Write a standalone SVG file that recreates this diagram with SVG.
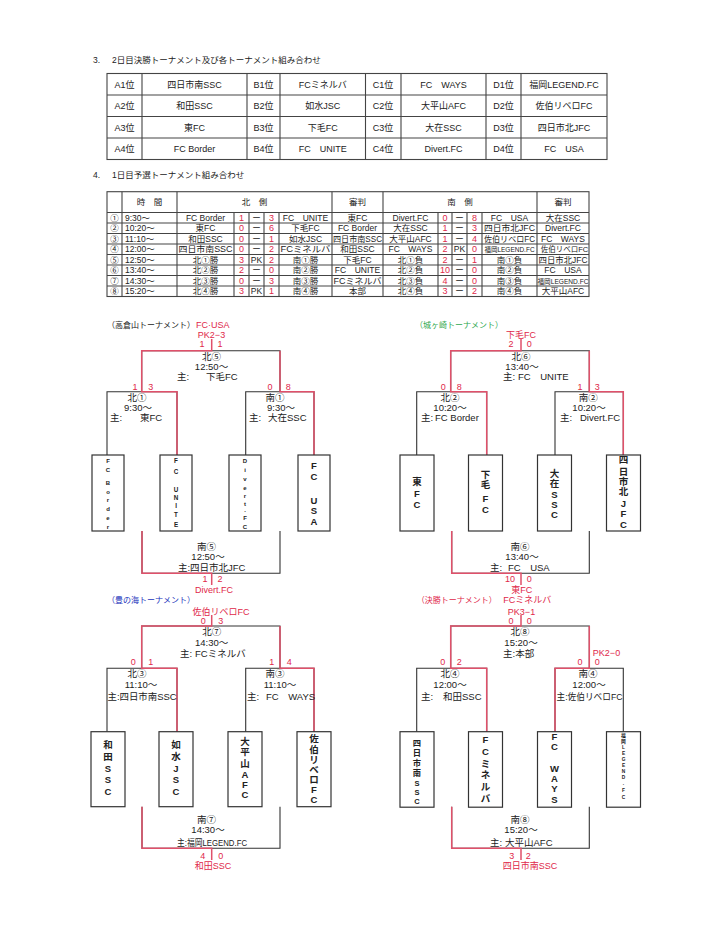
<svg xmlns="http://www.w3.org/2000/svg" width="720" height="937" viewBox="0 0 720 937">
<style>
text{font-family:"Liberation Sans","Noto Sans CJK JP",sans-serif;fill:#222}
.h{font-size:8.5px}
.t1{font-size:9px;text-anchor:middle}
.t2{font-size:8.5px;text-anchor:middle}
.t2l{font-size:8.5px}
.b{font-size:9.5px}
.bc{font-size:9.5px;text-anchor:middle}
.ttl{font-size:8px}
.r{fill:#e0284a}
.s{font-size:9px;fill:#e0284a;text-anchor:middle}
.v{font-weight:bold;text-anchor:middle;font-size:9.5px}
.vm{font-weight:bold;text-anchor:middle;font-size:8.3px}
.vu{font-weight:bold;text-anchor:middle;font-size:6.3px}
.vs{font-weight:bold;text-anchor:middle;font-size:6px}
.vt{font-weight:bold;text-anchor:middle;font-size:4.8px}
.g{stroke:#444;stroke-width:1.1;fill:none}
.ln{stroke:#333;stroke-width:1.1;fill:none}
.rl{stroke:#e0506a;stroke-width:1.5;fill:none}
.box{fill:#fff;stroke:#333;stroke-width:1.2}
</style>
<rect width="720" height="937" fill="#fff"/>

<g id="section3">
<text class="h" x="93" y="63">3.</text>
<text class="h" x="112" y="63">2日目決勝トーナメント及び各トーナメント組み合わせ</text>
</g>
<g id="table1">
<rect class="g" x="107" y="73.5" width="500" height="86" stroke-width="1.4"/>
<path class="g" d="M107,95H607M107,116.5H607M107,138H607M142,73.5V159.5M247,73.5V159.5M280,73.5V159.5M365.5,73.5V159.5M401,73.5V159.5M486,73.5V159.5M521,73.5V159.5"/>
<text class="t1" x="124.5" y="87.5">A1位</text><text class="t1" x="194.5" y="87.5">四日市南SSC</text><text class="t1" x="263.5" y="87.5">B1位</text><text class="t1" x="322.7" y="87.5">FCミネルバ</text><text class="t1" x="383" y="87.5">C1位</text><text class="t1" x="443.5" y="87.5">FC　WAYS</text><text class="t1" x="503.5" y="87.5">D1位</text><text class="t1" x="564" y="87.5">福岡LEGEND.FC</text>
<text class="t1" x="124.5" y="109">A2位</text><text class="t1" x="194.5" y="109">和田SSC</text><text class="t1" x="263.5" y="109">B2位</text><text class="t1" x="322.7" y="109">如水JSC</text><text class="t1" x="383" y="109">C2位</text><text class="t1" x="443.5" y="109">大平山AFC</text><text class="t1" x="503.5" y="109">D2位</text><text class="t1" x="564" y="109">佐伯リベロFC</text>
<text class="t1" x="124.5" y="130.5">A3位</text><text class="t1" x="194.5" y="130.5">東FC</text><text class="t1" x="263.5" y="130.5">B3位</text><text class="t1" x="322.7" y="130.5">下毛FC</text><text class="t1" x="383" y="130.5">C3位</text><text class="t1" x="443.5" y="130.5">大在SSC</text><text class="t1" x="503.5" y="130.5">D3位</text><text class="t1" x="564" y="130.5">四日市北JFC</text>
<text class="t1" x="124.5" y="152">A4位</text><text class="t1" x="194.5" y="152">FC Border</text><text class="t1" x="263.5" y="152">B4位</text><text class="t1" x="322.7" y="152">FC　UNITE</text><text class="t1" x="383" y="152">C4位</text><text class="t1" x="443.5" y="152">Divert.FC</text><text class="t1" x="503.5" y="152">D4位</text><text class="t1" x="564" y="152">FC　USA</text>
</g>

<g id="section4">
<text class="h" x="93" y="178">4.</text>
<text class="h" x="112" y="178">1日目予選トーナメント組み合わせ</text>
</g>
<g id="table2">
<rect class="g" x="107" y="191.7" width="482" height="104.8" stroke-width="1.4"/>
<path class="g" d="M107,212.5H589M107,223H589M107,233.5H589M107,244H589M107,254.5H589M107,265H589M107,275.5H589M107,286H589M122,191.7V296.5M177,191.7V296.5M332,191.7V296.5M383,191.7V296.5M537,191.7V296.5M234,212.5V296.5M249,212.5V296.5M264,212.5V296.5M279,212.5V296.5M438,212.5V296.5M452,212.5V296.5M467,212.5V296.5M482,212.5V296.5"/>
<text class="t2" x="149.5" y="205">時　間</text><text class="t2" x="254.5" y="205">北　側</text><text class="t2" x="357.5" y="205">審判</text><text class="t2" x="460" y="205">南　側</text><text class="t2" x="563" y="205">審判</text>
<g id="row1"><text class="t2" x="114.5" y="220.7">①</text><text class="t2l" x="125" y="220.7">9:30～</text><text class="t2" x="205.5" y="220.7">FC Border</text><text class="s" x="241.5" y="220.7">1</text><text class="t2" x="256.5" y="220.7">ー</text><text class="s" x="271.5" y="220.7">3</text><text class="t2" x="305.5" y="220.7">FC　UNITE</text><text class="t2" x="357.5" y="220.7">東FC</text><text class="t2" x="410.5" y="220.7">Divert.FC</text><text class="s" x="445" y="220.7">0</text><text class="t2" x="459.5" y="220.7">ー</text><text class="s" x="474.5" y="220.7">8</text><text class="t2" x="509.5" y="220.7">FC　USA</text><text class="t2" x="563" y="220.7">大在SSC</text></g>
<g id="row2"><text class="t2" x="114.5" y="231.2">②</text><text class="t2l" x="125" y="231.2">10:20～</text><text class="t2" x="205.5" y="231.2">東FC</text><text class="s" x="241.5" y="231.2">0</text><text class="t2" x="256.5" y="231.2">ー</text><text class="s" x="271.5" y="231.2">6</text><text class="t2" x="305.5" y="231.2">下毛FC</text><text class="t2" x="357.5" y="231.2">FC Border</text><text class="t2" x="410.5" y="231.2">大在SSC</text><text class="s" x="445" y="231.2">1</text><text class="t2" x="459.5" y="231.2">ー</text><text class="s" x="474.5" y="231.2">3</text><text class="t2" x="509.5" y="231.2" textLength="51" lengthAdjust="spacingAndGlyphs">四日市北JFC</text><text class="t2" x="563" y="231.2">Divert.FC</text></g>
<g id="row3"><text class="t2" x="114.5" y="241.7">③</text><text class="t2l" x="125" y="241.7">11:10～</text><text class="t2" x="205.5" y="241.7">和田SSC</text><text class="s" x="241.5" y="241.7">0</text><text class="t2" x="256.5" y="241.7">ー</text><text class="s" x="271.5" y="241.7">1</text><text class="t2" x="305.5" y="241.7">如水JSC</text><text class="t2" x="357.5" y="241.7" textLength="49" lengthAdjust="spacingAndGlyphs">四日市南SSC</text><text class="t2" x="410.5" y="241.7">大平山AFC</text><text class="s" x="445" y="241.7">1</text><text class="t2" x="459.5" y="241.7">ー</text><text class="s" x="474.5" y="241.7">4</text><text class="t2" x="509.5" y="241.7" textLength="51" lengthAdjust="spacingAndGlyphs">佐伯リベロFC</text><text class="t2" x="563" y="241.7">FC　WAYS</text></g>
<g id="row4"><text class="t2" x="114.5" y="252.2">④</text><text class="t2l" x="125" y="252.2">12:00～</text><text class="t2" x="205.5" y="252.2" textLength="54" lengthAdjust="spacingAndGlyphs">四日市南SSC</text><text class="s" x="241.5" y="252.2">0</text><text class="t2" x="256.5" y="252.2">ー</text><text class="s" x="271.5" y="252.2">2</text><text class="t2" x="305.5" y="252.2" textLength="50" lengthAdjust="spacingAndGlyphs">FCミネルバ</text><text class="t2" x="357.5" y="252.2">和田SSC</text><text class="t2" x="410.5" y="252.2">FC　WAYS</text><text class="s" x="445" y="252.2">2</text><text class="t2" x="459.5" y="252.2">PK</text><text class="s" x="474.5" y="252.2">0</text><text class="t2" x="509.5" y="252" style="font-size:6.5px">福岡LEGEND.FC</text><text class="t2" x="564.5" y="252.4" style="font-size:7.5px">佐伯リベロFC</text></g>
<g id="row5"><text class="t2" x="114.5" y="262.7">⑤</text><text class="t2l" x="125" y="262.7">12:50～</text><text class="t2" x="205.5" y="262.7">北①勝</text><text class="s" x="241.5" y="262.7">3</text><text class="t2" x="256.5" y="262.7">PK</text><text class="s" x="271.5" y="262.7">2</text><text class="t2" x="305.5" y="262.7">南①勝</text><text class="t2" x="357.5" y="262.7">下毛FC</text><text class="t2" x="410.5" y="262.7">北①負</text><text class="s" x="445" y="262.7">2</text><text class="t2" x="459.5" y="262.7">ー</text><text class="s" x="474.5" y="262.7">1</text><text class="t2" x="509.5" y="262.7">南①負</text><text class="t2" x="563" y="262.7" textLength="49" lengthAdjust="spacingAndGlyphs">四日市北JFC</text></g>
<g id="row6"><text class="t2" x="114.5" y="273.2">⑥</text><text class="t2l" x="125" y="273.2">13:40～</text><text class="t2" x="205.5" y="273.2">北②勝</text><text class="s" x="241.5" y="273.2">2</text><text class="t2" x="256.5" y="273.2">ー</text><text class="s" x="271.5" y="273.2">0</text><text class="t2" x="305.5" y="273.2">南②勝</text><text class="t2" x="357.5" y="273.2">FC　UNITE</text><text class="t2" x="410.5" y="273.2">北②負</text><text class="s" x="445" y="273.2">10</text><text class="t2" x="459.5" y="273.2">ー</text><text class="s" x="474.5" y="273.2">0</text><text class="t2" x="509.5" y="273.2">南②負</text><text class="t2" x="563" y="273.2">FC　USA</text></g>
<g id="row7"><text class="t2" x="114.5" y="283.7">⑦</text><text class="t2l" x="125" y="283.7">14:30～</text><text class="t2" x="205.5" y="283.7">北③勝</text><text class="s" x="241.5" y="283.7">0</text><text class="t2" x="256.5" y="283.7">ー</text><text class="s" x="271.5" y="283.7">3</text><text class="t2" x="305.5" y="283.7">南③勝</text><text class="t2" x="357.5" y="283.7" textLength="48" lengthAdjust="spacingAndGlyphs">FCミネルバ</text><text class="t2" x="410.5" y="283.7">北③負</text><text class="s" x="445" y="283.7">4</text><text class="t2" x="459.5" y="283.7">ー</text><text class="s" x="474.5" y="283.7">0</text><text class="t2" x="509.5" y="283.7">南③負</text><text class="t2" x="563" y="283.5" style="font-size:6.6px">福岡LEGEND.FC</text></g>
<g id="row8"><text class="t2" x="114.5" y="294.2">⑧</text><text class="t2l" x="125" y="294.2">15:20～</text><text class="t2" x="205.5" y="294.2">北④勝</text><text class="s" x="241.5" y="294.2">3</text><text class="t2" x="256.5" y="294.2">PK</text><text class="s" x="271.5" y="294.2">1</text><text class="t2" x="305.5" y="294.2">南④勝</text><text class="t2" x="357.5" y="294.2">本部</text><text class="t2" x="410.5" y="294.2">北④負</text><text class="s" x="445" y="294.2">3</text><text class="t2" x="459.5" y="294.2">ー</text><text class="s" x="474.5" y="294.2">2</text><text class="t2" x="509.5" y="294.2">南④負</text><text class="t2" x="563" y="294.2">大平山AFC</text></g>
</g>

<g id="connectors">
<path class="ln" d="M141.7,391.7V350.7H280V391.7M107,455V391.7H177V455M245.7,455V391.7H314V455M142,531V573.3H280V531"/>
<path class="rl" d="M211.7,339V350.7H141.7V391.7H177V455M280,350.7V391.7H314V455M142,531V573.3H211.7V585"/>
<path class="ln" d="M450.7,391.7V350.7H589.3V391.7M416.7,455V391.7H486.7V455M555,455V391.7H623.3V455M451.7,531V573.3H589.3V531"/>
<path class="rl" d="M521,339V350.7H450.7V391.7H486.7V455M589.3,350.7V391.7H623.3V455M451.7,531V573.3H521V585"/>
<path class="ln" d="M141.7,668.3V626H280V668.3M107,731.7V668.3H177V731.7M245.7,731.7V668.3H314V731.7M142,806.7V848.3H280V806.7"/>
<path class="rl" d="M211.7,615V626H141.7V668.3H177V731.7M280,626V668.3H314V731.7M142,806.7V848.3H211.7V860"/>
<path class="ln" d="M450.7,668.3V626H589.3V668.3M416.7,731.7V668.3H486.7V731.7M555,731.7V668.3H623.3V731.7M451.7,806.7V848.3H589.3V806.7"/>
<path class="rl" d="M521,615V626H450.7V668.3H486.7V731.7M589.3,626V668.3H555V731.7M451.7,806.7V848.3H521V860"/>
</g>

<g id="b1-title"><text class="ttl" x="107" y="328">（高倉山トーナメント）</text><text class="ttl r" x="196" y="328" style="font-size:9px">FC·USA</text><text class="s" x="211.5" y="338">PK2−3</text></g>
<g id="b1-kita5"><text class="s" x="202" y="346.5">1</text><text class="s" x="220" y="346.5">1</text><text class="bc" x="211.5" y="360">北⑤</text><text class="bc" x="211.5" y="370">12:50～</text><text class="b" x="177" y="380">主:</text><text class="b" x="206" y="380">下毛FC</text></g>
<g id="b1-kita1"><text class="s" x="135" y="390">1</text><text class="s" x="150.7" y="390">3</text><text class="bc" x="137" y="400.5">北①</text><text class="bc" x="138" y="411">9:30～</text><text class="b" x="110" y="420.5">主:</text><text class="b" x="140" y="420.5">東FC</text></g>
<g id="b1-minami1"><text class="s" x="270" y="390">0</text><text class="s" x="288.3" y="390">8</text><text class="bc" x="275" y="400.5">南①</text><text class="bc" x="281" y="411">9:30～</text><text class="b" x="249" y="420.5">主:</text><text class="b" x="268" y="420.5">大在SSC</text></g>
<g id="b1-fcborder"><rect class="box" x="92" y="455" width="32" height="76"/><text class="vs" x="108" y="463">F</text><text class="vs" x="108" y="472">C</text><text class="vs" x="108" y="485">B</text><text class="vs" x="108" y="493.5">o</text><text class="vs" x="108" y="502">r</text><text class="vs" x="108" y="511">d</text><text class="vs" x="108" y="520">e</text><text class="vs" x="108" y="529">r</text></g>
<g id="b1-fcunite"><rect class="box" x="160" y="455" width="32" height="76"/><text class="vu" x="176" y="463">F</text><text class="vu" x="176" y="474">C</text><text class="vu" x="176" y="492">U</text><text class="vu" x="176" y="500">N</text><text class="vu" x="176" y="508">I</text><text class="vu" x="176" y="516.5">T</text><text class="vu" x="176" y="526.5">E</text></g>
<g id="b1-divert"><rect class="box" x="229" y="455" width="32" height="76"/><text class="vs" x="245" y="463">D</text><text class="vs" x="245" y="472">i</text><text class="vs" x="245" y="481">v</text><text class="vs" x="245" y="489.5">e</text><text class="vs" x="245" y="497.5">r</text><text class="vs" x="245" y="505.5">t</text><text class="vs" x="245" y="512">.</text><text class="vs" x="245" y="520">F</text><text class="vs" x="245" y="529">C</text></g>
<g id="b1-fcusa"><rect class="box" x="298" y="455" width="32" height="76"/><text class="v" x="314" y="468.5">F</text><text class="v" x="314" y="480">C</text><text class="v" x="314" y="503.5">U</text><text class="v" x="314" y="513.5">S</text><text class="v" x="314" y="525">A</text></g>
<g id="b1-minami5"><text class="bc" x="206.5" y="550">南⑤</text><text class="bc" x="208" y="560">12:50～</text><text class="bc" x="211.7" y="570.5">主:四日市北JFC</text><text class="s" x="205" y="581.5">1</text><text class="s" x="220" y="581.5">2</text><text class="s" x="214" y="593">Divert.FC</text></g>

<g id="b2-title"><text class="ttl" x="415" y="328" style="fill:#2fa84f">（城ヶ崎トーナメント）</text><text class="s" x="521" y="338">下毛FC</text></g>
<g id="b2-kita6"><text class="s" x="511" y="346.5">2</text><text class="s" x="529.3" y="346.5">0</text><text class="bc" x="521" y="360">北⑥</text><text class="bc" x="522" y="370">13:40～</text><text class="b" x="503" y="380">主:</text><text class="b" x="518" y="380">FC　UNITE</text></g>
<g id="b2-kita2"><text class="s" x="443.3" y="390">0</text><text class="s" x="459.3" y="390">8</text><text class="bc" x="450" y="400.5">北②</text><text class="bc" x="450" y="411">10:20～</text><text class="b" x="421" y="420.5">主:</text><text class="b" x="435" y="420.5">FC Border</text></g>
<g id="b2-minami2"><text class="s" x="580" y="390">1</text><text class="s" x="597.3" y="390">3</text><text class="bc" x="588.3" y="400.5">南②</text><text class="bc" x="589" y="411">10:20～</text><text class="b" x="560" y="420.5">主:</text><text class="b" x="580" y="420.5">Divert.FC</text></g>
<g id="b2-higashi"><rect class="box" x="400" y="455" width="34" height="76"/><text class="v" x="417" y="485">東</text><text class="v" x="417" y="496.6">F</text><text class="v" x="417" y="508.3">C</text></g>
<g id="b2-shimoge"><rect class="box" x="468.5" y="455" width="34" height="76"/><text class="v" x="485.5" y="478.3">下</text><text class="v" x="485.5" y="488.3">毛</text><text class="v" x="485.5" y="501.6">F</text><text class="v" x="485.5" y="513.3">C</text></g>
<g id="b2-ozai"><rect class="box" x="537.5" y="455" width="34" height="76"/><text class="v" x="554.5" y="476.6">大</text><text class="v" x="554.5" y="486.6">在</text><text class="v" x="554.5" y="498.3">S</text><text class="v" x="554.5" y="508.3">S</text><text class="v" x="554.5" y="518.3">C</text></g>
<g id="b2-yokkaichikita"><rect class="box" x="606.5" y="455" width="34" height="76"/><text class="v" x="623.5" y="463.3">四</text><text class="v" x="623.5" y="475">日</text><text class="v" x="623.5" y="485">市</text><text class="v" x="623.5" y="495">北</text><text class="v" x="623.5" y="506.6">J</text><text class="v" x="623.5" y="516.6">F</text><text class="v" x="623.5" y="528.3">C</text></g>
<g id="b2-minami6"><text class="bc" x="520" y="550">南⑥</text><text class="bc" x="522" y="560">13:40～</text><text class="b" x="490" y="570.5">主:</text><text class="b" x="508" y="570.5">FC　USA</text><text class="s" x="510" y="581.5">10</text><text class="s" x="529.3" y="581.5">0</text><text class="s" x="521.7" y="593">東FC</text></g>

<g id="b3-title"><text class="ttl" x="107" y="603" style="fill:#2233bb">（豊の海トーナメント）</text><text class="s" x="221" y="614.5">佐伯リベロFC</text></g>
<g id="b3-kita7"><text class="s" x="203.3" y="623.5">0</text><text class="s" x="220.7" y="623.5">3</text><text class="bc" x="211.7" y="635">北⑦</text><text class="bc" x="211.7" y="646">14:30～</text><text class="b" x="180" y="656.5">主:</text><text class="b" x="195" y="656.5">FCミネルバ</text></g>
<g id="b3-kita3"><text class="s" x="133.3" y="665">0</text><text class="s" x="150.7" y="665">1</text><text class="bc" x="137" y="676.5">北③</text><text class="bc" x="141" y="687.5">11:10～</text><text class="b" x="107.5" y="699.5" textLength="69" lengthAdjust="spacingAndGlyphs">主:四日市南SSC</text></g>
<g id="b3-minami3"><text class="s" x="271.7" y="665">1</text><text class="s" x="289.3" y="665">4</text><text class="bc" x="275" y="676.5">南③</text><text class="bc" x="280" y="687.5">11:10～</text><text class="b" x="247" y="699.5">主:</text><text class="b" x="266" y="699.5">FC　WAYS</text></g>
<g id="b3-wada"><rect class="box" x="91" y="731.7" width="34" height="75"/><text class="v" x="108" y="748.3">和</text><text class="v" x="108" y="760">田</text><text class="v" x="108" y="771.6">S</text><text class="v" x="108" y="783.3">S</text><text class="v" x="108" y="795">C</text></g>
<g id="b3-josui"><rect class="box" x="159" y="731.7" width="34" height="75"/><text class="v" x="176" y="748.3">如</text><text class="v" x="176" y="760">水</text><text class="v" x="176" y="771.6">J</text><text class="v" x="176" y="783.3">S</text><text class="v" x="176" y="795">C</text></g>
<g id="b3-ohirayama"><rect class="box" x="228" y="731.7" width="34" height="75"/><text class="v" x="245" y="745">大</text><text class="v" x="245" y="755">平</text><text class="v" x="245" y="766.6">山</text><text class="v" x="245" y="778.3">A</text><text class="v" x="245" y="788.3">F</text><text class="v" x="245" y="798.3">C</text></g>
<g id="b3-saiki"><rect class="box" x="297" y="731.7" width="34" height="75"/><text class="v" x="314" y="741.6">佐</text><text class="v" x="314" y="753.3">伯</text><text class="v" x="314" y="763.3">リ</text><text class="v" x="314" y="773.3">ベ</text><text class="v" x="314" y="783.3">ロ</text><text class="v" x="314" y="793.3">F</text><text class="v" x="314" y="803.3">C</text></g>
<g id="b3-minami7"><text class="bc" x="206.5" y="823">南⑦</text><text class="bc" x="208" y="833">14:30～</text><text class="b" x="177" y="846" textLength="70" lengthAdjust="spacingAndGlyphs">主:福岡LEGEND.FC</text><text class="s" x="202.7" y="859">4</text><text class="s" x="220.7" y="859">0</text><text class="s" x="213" y="869">和田SSC</text></g>

<g id="b4-title"><text class="ttl r" x="416.7" y="603">（決勝トーナメント）</text><text class="ttl r" x="503.3" y="603" style="font-size:9px">FCミネルバ</text><text class="s" x="521.5" y="614.5">PK3−1</text></g>
<g id="b4-kita8"><text class="s" x="511" y="623.5">0</text><text class="s" x="529.3" y="623.5">0</text><text class="bc" x="520" y="635">北⑧</text><text class="bc" x="521" y="646">15:20～</text><text class="b" x="503" y="656.5">主:本部</text><text class="s" x="606.5" y="655.5">PK2−0</text></g>
<g id="b4-kita4"><text class="s" x="442.7" y="665">0</text><text class="s" x="459.3" y="665">2</text><text class="bc" x="450" y="676.5">北④</text><text class="bc" x="450" y="687.5">12:00～</text><text class="b" x="421" y="699.5">主:</text><text class="b" x="443" y="699.5">和田SSC</text></g>
<g id="b4-minami4"><text class="s" x="580" y="665">0</text><text class="s" x="597.3" y="665">0</text><text class="bc" x="588" y="676.5">南④</text><text class="bc" x="589" y="687.5">12:00～</text><text class="b" x="556.5" y="699.5" textLength="66" lengthAdjust="spacingAndGlyphs">主:佐伯リベロFC</text></g>
<g id="b4-yokkaichiminami"><rect class="box" x="400" y="731.7" width="34" height="75.5"/><text class="vm" x="417" y="746">四</text><text class="vm" x="417" y="756">日</text><text class="vm" x="417" y="766">市</text><text class="vm" x="417" y="776">南</text><text class="vm" x="417" y="786" style="font-size:7.5px">S</text><text class="vm" x="417" y="795" style="font-size:7.5px">S</text><text class="vm" x="417" y="804" style="font-size:7.5px">C</text></g>
<g id="b4-minerva"><rect class="box" x="468.5" y="731.7" width="34" height="75.5"/><text class="v" x="485.5" y="743.3">F</text><text class="v" x="485.5" y="755">C</text><text class="v" x="485.5" y="766.6">ミ</text><text class="v" x="485.5" y="778.3">ネ</text><text class="v" x="485.5" y="790">ル</text><text class="v" x="485.5" y="801.6">バ</text></g>
<g id="b4-fcways"><rect class="box" x="537.5" y="731.7" width="34" height="75.5"/><text class="v" x="554.5" y="740">F</text><text class="v" x="554.5" y="750">C</text><text class="v" x="554.5" y="771.6">W</text><text class="v" x="554.5" y="781.6">A</text><text class="v" x="554.5" y="791.6">Y</text><text class="v" x="554.5" y="803.3">S</text></g>
<g id="b4-legend"><rect class="box" x="606.5" y="731.7" width="34" height="75.5"/><text class="vt" x="623.5" y="737">福</text><text class="vt" x="623.5" y="742.5">岡</text><text class="vt" x="623.5" y="749">L</text><text class="vt" x="623.5" y="755">E</text><text class="vt" x="623.5" y="761">G</text><text class="vt" x="623.5" y="767">E</text><text class="vt" x="623.5" y="773">N</text><text class="vt" x="623.5" y="779">D</text><text class="vt" x="623.5" y="785">.</text><text class="vt" x="623.5" y="792">F</text><text class="vt" x="623.5" y="799">C</text></g>
<g id="b4-minami8"><text class="bc" x="520" y="823">南⑧</text><text class="bc" x="521" y="833">15:20～</text><text class="b" x="490" y="846">主:</text><text class="b" x="505" y="846">大平山AFC</text><text class="s" x="511.7" y="859">3</text><text class="s" x="528.3" y="859">2</text><text class="s" x="530" y="869">四日市南SSC</text></g>
</svg>
